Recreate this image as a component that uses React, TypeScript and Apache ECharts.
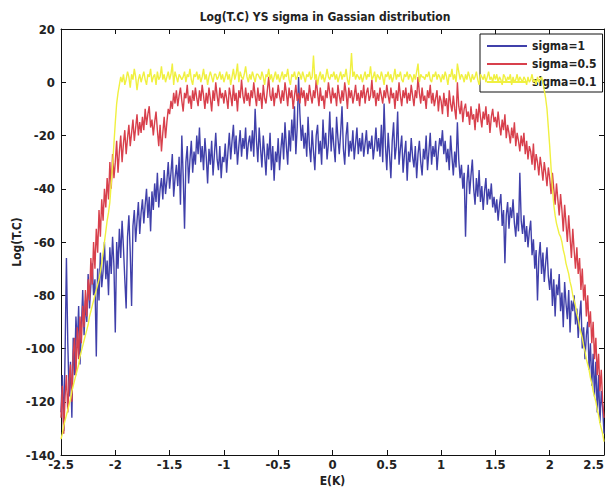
import React, { useEffect, useRef } from "react";
import * as echarts from "echarts";

const TITLE = "Log(T.C) YS sigma in Gassian distribution";
const X_NAME = "E(K)";
const Y_NAME = "Log(T.C)";
const SERIES_NAMES = ["sigma=1", "sigma=0.5", "sigma=0.1"];
const SERIES_COLORS = ["#4040aa", "#d8404c", "#f0f040"];

// Sampling grid of E(K): first sample and step (401 samples, -2.5 .. 2.5)
const E_START = -2.5;
const E_STEP = 0.0125;

// sigma = 1
const sigma1 = [
  -124, -110, -131, -102, -66, -98, -118, -105, -126, -96, -110, -88, -99, -84, -106, -92, -78, -95, -82, -90,
  -72, -85, -76, -68, -80, -74, -103, -70, -82, -64, -77, -71, -60, -74, -67, -80, -62, -72, -58, -69,
  -94, -60, -70, -55, -66, -52, -62, -74, -85, -58, -50, -64, -84, -54, -48, -60, -52, -45, -57, -49,
  -44, -53, -46, -40, -51, -43, -56, -41, -48, -38, -45, -34, -47, -40, -36, -44, -33, -42, -37, -30,
  -40, -34, -27, -43, -36, -31, -39, -28, -46, -20, -35, -55, -30, -24, -38, -29, -22, -34, -26, -31,
  -20, -27, -17, -30, -24, -33, -21, -28, -38, -25, -31, -22, -35, -27, -19, -29, -33, -24, -36, -28,
  -30, -23, -34, -26, -19, -29, -22, -16, -27, -20, -31, -24, -18, -28, -21, -25, -17, -29, -23, -20,
  -26, -18, -28, -10, -22, -30, -17, -25, -32, -20, -27, -35, -23, -29, -19, -33, -24, -37, -26, -30,
  -21, -33, -25, -19, -29, -15, -24, -31, -18, -26, -14, -22, -9, -27, -17, 2, -12, -22, -16, -25,
  -19, -28, -13, -24, -30, -18, -26, -33, -20, -16, -27, -22, -31, -14, -25, -19, -29, -23, -11, -26,
  -17, -24, -30, -13, -21, -27, -19, -9, -25, -31, -20, -15, -28, -22, -26, -18, -29, -23, -17, -27,
  -21, -26, -19, -28, -23, -18, -27, -22, -25, -20, -29, -24, -17, -26, -21, -28, -16, -30, -8, -24,
  -33, -19, -27, -36, -22, -15, -29, -24, -11, -31, -25, -20, -34, -27, -22, -37, -26, -30, -21, -28,
  -32, -24, -36, -27, -22, -30, -35, -25, -29, -20, -33, -26, -19, -31, -24, -28, -22, -33, -26, -21,
  -24, -18, -27, -22, -30, -25, -33, -20, -28, -35, -26, -32, -15, -29, -36, -31, -40, -34, -58, -38,
  -31, -42, -35, -29, -40, -46, -36, -43, -33, -45, -39, -48, -41, -36, -46, -40, -44, -38, -47, -43,
  -49, -44, -52, -46, -42, -54, -48, -68, -50, -45, -55, -47, -51, -44, -53, -58, -49, -56, -34, -52,
  -57, -50, -60, -54, -62, -56, -52, -65, -59, -70, -63, -82, -66, -60, -72, -64, -75, -68, -62, -73,
  -78, -70, -84, -74, -88, -76, -80, -72, -86, -79, -92, -75, -83, -89, -78, -94, -82, -86, -80, -91,
  -85, -96, -88, -82, -100, -92, -104, -95, -90, -108, -98, -114, -102, -118, -105, -124, -110, -128, -116, -122,
  -132,
];

// sigma = 0.5
const sigma05 = [
  -126, -114, -132, -118, -110, -124, -112, -106, -120, -102, -96, -110, -92, -104, -88, -98, -84, -92, -78, -88,
  -74, -82, -66, -76, -60, -70, -55, -64, -48, -58, -44, -52, -40, -47, -36, -44, -30, -40, -27, -36,
  -30, -22, -34, -26, -20, -30, -23, -18, -27, -21, -16, -24, -19, -14, -22, -17, -12, -20, -15, -19,
  -13, -18, -10, -16, -12, -9, -17, -14, -20, -15, -11, -18, -24, -16, -26, -19, -13, -21, -15, -10,
  -12, -7, -10, -4, -8, -3, -9, -5, -2, -7, -11, -4, -6, -1, -8, -5, -10, -3, -7, -2,
  -6, -9, -3, -7, -1, -5, -10, -4, -8, -2, -6, -11, -3, -7, 0, -5, -9, -2, -6, -4,
  -8, -3, -6, -10, -2, -5, -9, -1, -7, -4, -11, -3, -6, 1, -5, -8, -2, -7, -4, -9,
  -3, -6, 0, -5, -9, -2, -7, -4, -10, -1, -6, -8, -3, 2, -5, -7, -2, -9, -4, -6,
  -1, -5, -8, -3, -7, 0, -4, -9, -2, -6, -3, -10, -5, -1, -7, -4, -8, -2, -6, -3,
  -9, -4, -7, -1, -5, -8, -3, -6, 1, -4, -9, -2, -7, -5, -10, -3, -6, 0, -4, -8,
  -2, -6, -4, -9, -1, -5, -8, -3, -7, 0, -4, -10, -2, -6, -3, -8, -5, -1, -7, -4,
  -9, -3, -6, -1, -8, -4, -2, -7, -5, 1, -6, -3, -9, -4, -7, -2, -5, -8, -3, -6,
  -1, -5, -8, -2, -6, -4, -10, -3, -7, 0, -5, -9, -3, -6, -2, -8, -4, -7, -1, -5,
  -9, -3, -6, 2, -4, -8, -2, -7, -5, -10, -3, -6, -1, -8, -4, -9, -6, -3, -11, -5,
  -7, -12, -4, -9, -6, -13, -3, -8, -11, -5, -10, -14, 0, -9, -12, -7, -15, -10, -8, -13,
  -11, -16, -9, -14, -12, -18, -10, -15, -8, -13, -17, -11, -14, -9, -16, -12, -19, -13, -10, -15,
  -13, -17, -11, -16, -20, -14, -18, -12, -21, -16, -19, -23, -17, -21, -15, -24, -19, -22, -26, -20,
  -24, -19, -27, -22, -29, -24, -26, -31, -23, -33, -27, -30, -35, -28, -32, -37, -30, -34, -39, -32,
  -36, -42, -34, -40, -46, -38, -44, -50, -42, -48, -56, -46, -53, -60, -50, -58, -66, -55, -63, -70,
  -62, -72, -66, -78, -70, -82, -76, -88, -80, -92, -86, -98, -90, -104, -96, -110, -102, -116, -108, -120,
  -126,
];

// sigma = 0.1
const sigma01 = [
  -134, -132, -129, -127, -125, -123, -121, -119, -116, -114, -112, -110, -108, -106, -103, -101, -99, -97, -95, -93,
  -91, -88, -86, -84, -82, -80, -78, -76, -74, -71, -68, -64, -60, -56, -52, -49, -45, -38, -31, -23,
  -15, -8, -4, -1, 2, 0, 3, -1, 1, 4, 2, -2, 3, 1, 5, 2, -3, 1, 3, 0,
  2, 4, 1, -1, 3, 2, 5, 0, 2, 3, -1, 4, 1, 2, 6, 1, 3, 0, 2, 4,
  1, 3, 7, -1, 4, 2, 0, 3, 2, 1, 2, 4, 0, 3, 2, 5, 1, -1, 3, 2,
  4, 1, 3, 0, 2, 5, 1, 3, -1, 2, 4, 2, 0, 3, 3, 1, 2, 4, 1, 3,
  0, 2, 4, 1, 3, -1, 2, 5, 1, 3, 7, 0, 4, 2, 1, 3, 6, 2, 0, 3,
  1, 4, 2, 0, 3, 3, 2, 1, 4, 2, -1, 3, 2, 5, 1, 3, 0, 2, 4, 1,
  3, 0, 2, 4, 1, 3, 2, 5, 1, -1, 3, 2, 4, 1, 2, 4, 3, 1, 4, 2,
  0, 3, 2, 4, 1, 2, 10, 1, 3, -1, 2, 4, 1, 3, 0, 2, 5, 2, 1, 3,
  2, 4, 1, 3, 0, 2, 4, 1, 3, 2, 5, 1, -1, 3, 11, 2, 4, 1, 3, 2,
  1, 3, 0, 2, 4, 1, 3, 2, 6, 1, 2, 4, 0, 3, 2, 1, 4, 2, -1, 3,
  2, 4, 1, 3, 0, 2, 5, 1, 3, 2, 4, 1, 0, 3, 2, 4, 1, 3, 2, 0,
  3, 1, 4, 7, 0, 3, 2, 2, 1, 3, 2, 4, 1, 0, 3, 2, 4, 1, 3, 2,
  0, 3, 1, 4, 2, -1, 3, 2, 5, 1, 3, 0, 7, 4, 1, 3, 2, 0, 3, 1,
  4, 2, 0, 3, 1, 2, 4, 1, -1, 3, 2, 1, 3, 0, 2, 4, 1, 2, 0, 3,
  1, 3, 0, 2, 1, -1, 3, 2, 0, 2, 1, 3, -1, 2, 0, 1, 3, 0, 2, 1,
  0, 2, 1, -1, 2, 0, 1, 3, 0, 1, -1, 2, 0, 1, 2, 0, -3, -6, -10, -17,
  -24, -32, -40, -46, -50, -53, -55, -57, -58, -60, -63, -65, -68, -70, -72, -75, -77, -80, -82, -84,
  -87, -89, -92, -94, -96, -99, -101, -104, -106, -108, -111, -113, -116, -118, -120, -123, -125, -128, -130, -132,
  -135,
];

const SERIES_VALUES = [sigma1, sigma05, sigma01];

const FONT = "'Liberation Sans Narrow', 'DejaVu Sans Condensed', 'Liberation Sans', sans-serif";

export default function App() {
  const ref = useRef<HTMLDivElement>(null);

  useEffect(() => {
    if (!ref.current) return;
    const chart = echarts.init(ref.current, undefined, { renderer: "svg" });

    const toPairs = (arr: number[]) => arr.map((v, i) => [E_START + i * E_STEP, v]);

    const axisCommon = {
      axisLine: { show: true, onZero: false, lineStyle: { color: "#111", width: 1 } },
      axisTick: { show: true, inside: true, length: 5, lineStyle: { color: "#111" } },
      splitLine: { show: false },
    };

    chart.setOption({
      animation: false,
      backgroundColor: "#ffffff",
      title: {
        text: TITLE,
        left: 320,
        textAlign: "center",
        top: 6,
        textStyle: { fontFamily: FONT, fontSize: 12, fontWeight: "bold", color: "#222" },
      },
      legend: {
        data: SERIES_NAMES,
        orient: "vertical",
        left: 480,
        top: 34,
        padding: [5, 6, 3, 7],
        itemGap: 4,
        itemWidth: 40,
        itemHeight: 2,
        icon: "rect",
        borderColor: "#111",
        borderWidth: 1,
        backgroundColor: "#ffffff",
        textStyle: { fontFamily: FONT, fontSize: 12, fontWeight: "bold", color: "#222", lineHeight: 14 },
      },
      grid: { left: 61, right: 5, top: 29, bottom: 38, containLabel: false, outerBoundsMode: "none" },
      xAxis: [
        {
          type: "value",
          min: -2.5,
          max: 2.5,
          interval: 0.5,
          position: "bottom",
          name: X_NAME,
          nameLocation: "middle",
          nameGap: 20,
          nameMoveOverlap: false,
          nameTextStyle: { fontFamily: FONT, fontSize: 12, fontWeight: "bold", color: "#222" },
          axisLabel: {
            fontFamily: FONT,
            fontSize: 13,
            fontWeight: "bold",
            color: "#222",
            margin: 3,
            alignMaxLabel: "right",
          },
          ...axisCommon,
        },
        {
          type: "value",
          min: -2.5,
          max: 2.5,
          interval: 0.5,
          position: "top",
          axisLabel: { show: false },
          ...axisCommon,
        },
      ],
      yAxis: [
        {
          type: "value",
          min: -140,
          max: 20,
          interval: 20,
          position: "left",
          name: Y_NAME,
          nameLocation: "middle",
          nameGap: 38,
          nameMoveOverlap: false,
          nameRotate: 90,
          nameTextStyle: { fontFamily: FONT, fontSize: 12, fontWeight: "bold", color: "#222" },
          axisLabel: { fontFamily: FONT, fontSize: 13, fontWeight: "bold", color: "#222", margin: 6 },
          ...axisCommon,
        },
        {
          type: "value",
          min: -140,
          max: 20,
          interval: 20,
          position: "right",
          axisLabel: { show: false },
          ...axisCommon,
        },
      ],
      series: SERIES_NAMES.map((name, k) => ({
        name,
        type: "line",
        xAxisIndex: 0,
        yAxisIndex: 0,
        data: toPairs(SERIES_VALUES[k]),
        showSymbol: false,
        symbol: "none",
        lineStyle: { color: SERIES_COLORS[k], width: 1.4 },
        itemStyle: { color: SERIES_COLORS[k] },
        z: 2 + k,
      })),
    });

    return () => chart.dispose();
  }, []);

  return (
    <div
      ref={ref}
      style={{ position: "absolute", left: 0, top: 0, width: 609, height: 493 }}
    />
  );
}
